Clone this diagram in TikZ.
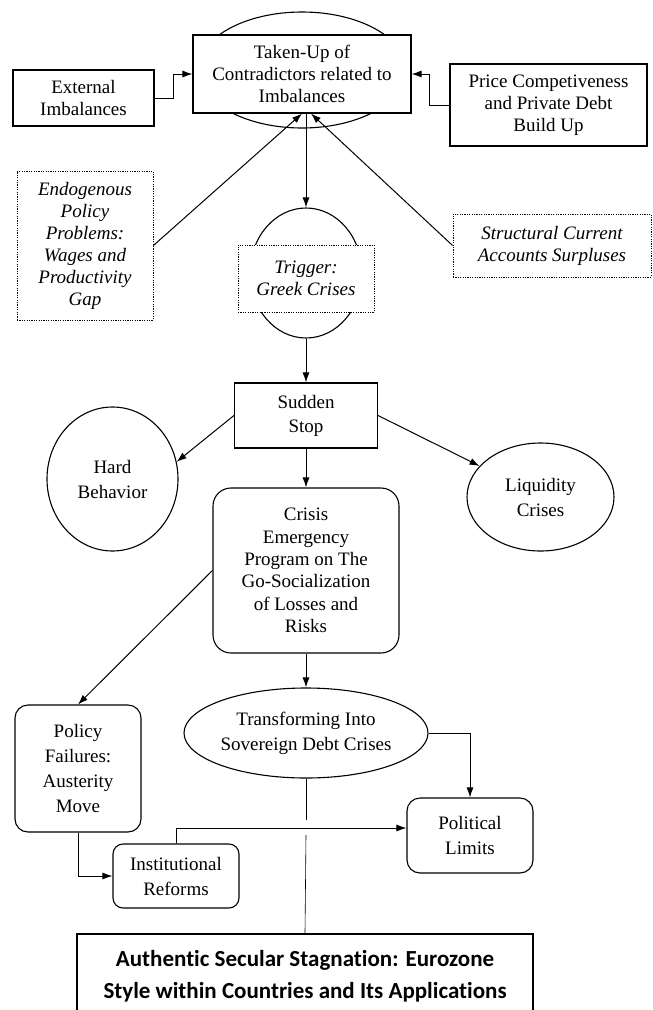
\documentclass[tikz,border=0pt]{standalone}
\usepackage{fontspec}
\setmainfont{Liberation Serif}
\newfontfamily\calibrifont[Ligatures=NoCommon]{Carlito}
\usepackage{tikz}
\usetikzlibrary{positioning, shapes.geometric, arrows.meta}

\begin{document}
\begin{tikzpicture}[x=1pt, y=-1pt, >={Latex[length=10pt,width=7pt]},
  line width=1pt,
  box node/.style={rectangle, draw, fill=white, line width=1.1pt, align=center, inner sep=0pt, font=\fontsize{19}{22}\selectfont},
  round node/.style={box node, rounded corners=13pt, font=\fontsize{19}{25}\selectfont},
  dot node/.style={box node, line width=0.8pt, dash pattern=on 1.2pt off 1.2pt, font=\fontsize{19}{22}\selectfont\itshape},
  oval node/.style={ellipse, draw, fill=white, line width=1.1pt, align=center, inner sep=0pt, font=\fontsize{19}{25}\selectfont}]

\useasboundingbox (0,0) rectangle (653,1010);
\clip (0,0) rectangle (653,1010);

\node[oval node, minimum width=208pt, minimum height=116pt] (takeupoval) at (302,70) {};
\node[box node, minimum width=218pt, minimum height=78pt] (takeup) at (302,74) {Taken-Up of\\Contradictors related to\\Imbalances};
\node[box node, minimum width=141pt, minimum height=56pt] (extern) at (83.5,98) {External\\Imbalances};
\node[box node, minimum width=197pt, minimum height=82pt] (price) at (548.5,105) {Price Competiveness\\and Private Debt\\Build Up};

\node[dot node, minimum width=136pt, minimum height=149pt] (endog) at (85,245.5) {Endogenous\\Policy\\Problems:\\Wages and\\Productivity\\Gap};
\node[dot node, minimum width=198pt, minimum height=63pt] (structural) at (552,245.5) {Structural Current\\Accounts Surpluses};

\node[oval node, minimum width=112pt, minimum height=130pt] (triggeroval) at (306,273) {};
\node[dot node, minimum width=136pt, minimum height=67pt] (trigger) at (306,278.5) {Trigger:\\Greek Crises};

\node[box node, minimum width=143pt, minimum height=65pt, font=\fontsize{19}{24}\selectfont] (sudden) at (306,415.5) {Sudden\\Stop};
\node[oval node, minimum width=131pt, minimum height=144pt] (hard) at (112.5,479) {Hard\\Behavior};
\node[oval node, minimum width=147pt, minimum height=108pt] (liquidity) at (540.5,497) {Liquidity\\Crises};

\node[round node, minimum width=186pt, minimum height=165pt, rounded corners=18pt, font=\fontsize{19}{22.3}\selectfont] (crisis) at (306,570.5) {Crisis\\Emergency\\Program on The\\Go-Socialization\\of Losses and\\Risks};
\node[oval node, minimum width=244pt, minimum height=90pt] (transform) at (306,733) {Transforming Into\\Sovereign Debt Crises};

\node[round node, minimum width=126pt, minimum height=127pt] (policy) at (78,768.5) {Policy\\Failures:\\Austerity\\Move};
\node[round node, minimum width=126pt, minimum height=75pt] (political) at (470,835.5) {Political\\Limits};
\node[round node, minimum width=126pt, minimum height=64pt, rounded corners=10pt] (institutional) at (176,876) {Institutional\\Reforms};

\node[box node, line width=2pt, minimum width=456pt, minimum height=84pt, font=\calibrifont\bfseries\fontsize{23}{32}\selectfont] (authentic) at (305,976) {Authentic Secular Stagnation: Eurozone\\Style within Countries and Its Applications};

\draw[->] (extern.east) -- ++(19,0) |- (takeup.west);
\draw[->] (price.west) -- ++(-20,0) |- (takeup.east);
\path[->]
(endog.east) edge (takeup.south)
(structural.west) edge ([xshift=9pt]takeup.south)
([xshift=4pt]takeup.south) edge (triggeroval.north)
(triggeroval.south) edge (sudden.north)
(sudden.west) edge (hard.15)
(sudden.east) edge (liquidity.153)
(sudden.south) edge (crisis.north)
(crisis.west) edge (policy.north)
(crisis.south) edge (transform.north)
;

\draw[->] (transform.east) -| (political.north);
\draw[->] (policy.south) |- (institutional.west);
\draw[->] (institutional.north) |- ([yshift=7.5pt]political.west);

\coordinate (gaptop) at (306,820);
\coordinate (gapbottom) at (306,835);
\draw[line width=0.6pt] (transform.south) -- (gaptop);
\draw[line width=0.6pt] (gapbottom) -- (authentic.north);

\end{tikzpicture}
\end{document}
